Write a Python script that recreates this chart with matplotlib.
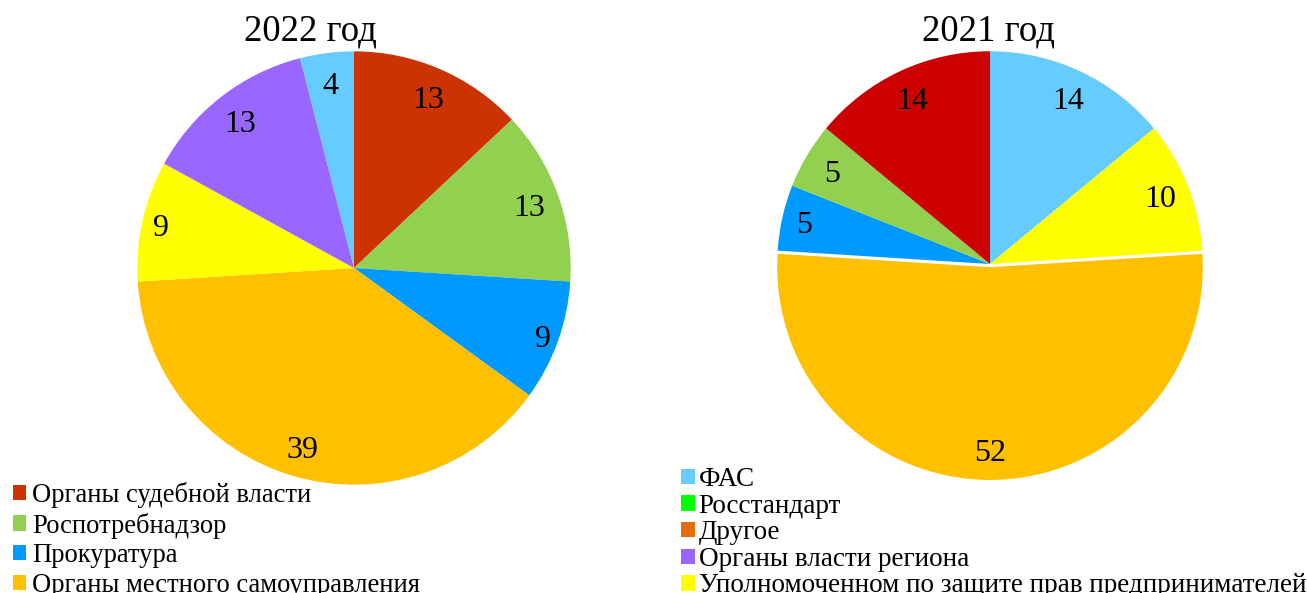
import matplotlib.pyplot as plt
import numpy as np

plt.rcParams['font.family'] = ['Liberation Serif', 'DejaVu Serif']

# 2022 year (legend is cut at bottom of the picture, only first entries visible)
labels_2022 = ["Органы судебной власти", "Роспотребнадзор", "Прокуратура",
               "Органы местного самоуправления",
               "Уполномоченном по защите прав предпринимателей",
               "Органы власти региона", "ФАС"]
values_2022 = [13, 13, 9, 39, 9, 13, 4]
colors_2022 = ["#CC3300", "#92D050", "#0099FF", "#FFC000", "#FFFF00", "#9966FF", "#66CCFF"]

# 2021 year
labels_2021 = ["ФАС", "Росстандарт", "Другое", "Органы власти региона",
               "Уполномоченном по защите прав предпринимателей",
               "Органы местного самоуправления", "Прокуратура",
               "Роспотребнадзор", "Органы судебной власти"]
values_2021 = [14, 0, 0, 0, 10, 52, 5, 5, 14]
colors_2021 = ["#66CCFF", "#00FF00", "#E46C0A", "#9966FF", "#FFFF00",
               "#FFC000", "#0099FF", "#92D050", "#CC0000"]

W, H = 1307, 593
fig = plt.figure(figsize=(W / 100, H / 100), dpi=100)


def px_axes(cx, cy, r):
    return fig.add_axes([(cx - r) / W, (H - cy - r) / H, 2 * r / W, 2 * r / H])


def draw_pie(ax, vals, cols, explode=None, push=None):
    wedges, texts, autos = ax.pie(
        vals, colors=cols, startangle=90, counterclock=False,
        explode=explode, pctdistance=0.86, radius=1,
        autopct=lambda p: '' if p < 0.5 else '%.0f' % (p * sum(vals) / 100),
        textprops={'fontsize': 23, 'color': 'black'},
        wedgeprops={'linewidth': 0})
    for i, t in enumerate(autos):
        x, y = t.get_position()
        k = (push or {}).get(i, 1.0)
        t.set_position((x * k, y * k - 0.015))
    ax.set_xlim(-1.02, 1.02)
    ax.set_ylim(-1.02, 1.02)
    ax.set_aspect('equal')
    ax.axis('off')
    return wedges


ax1 = px_axes(354, 268, 221)
w1 = draw_pie(ax1, values_2022, colors_2022, push={2: 1.08, 4: 1.06})

ax2 = px_axes(990, 264, 217)
expl = [0.015 if v == 52 else 0 for v in values_2021]
w2 = draw_pie(ax2, values_2021, colors_2021, explode=expl, push={6: 1.04})

fig.text(310 / W, (H - 41) / H, "2022 год", ha='center', va='baseline', fontsize=26.5)
fig.text(988 / W, (H - 41) / H, "2021 год", ha='center', va='baseline', fontsize=26.5)

fig.legend(w1[:4], labels_2022[:4], loc='upper left',
           bbox_to_anchor=(13 / W, (H - 482) / H), frameon=False, fontsize=19.2,
           handlelength=0.5, handleheight=0.5, handletextpad=0.22,
           labelspacing=0.17, borderpad=0, borderaxespad=0)
fig.legend(w2[:5], labels_2021[:5], loc='upper left',
           bbox_to_anchor=(681 / W, (H - 467) / H), frameon=False, fontsize=19.5,
           handlelength=0.5, handleheight=0.5, handletextpad=0.15,
           labelspacing=0.06, borderpad=0, borderaxespad=0)

fig.savefig("out.png", dpi=100)
